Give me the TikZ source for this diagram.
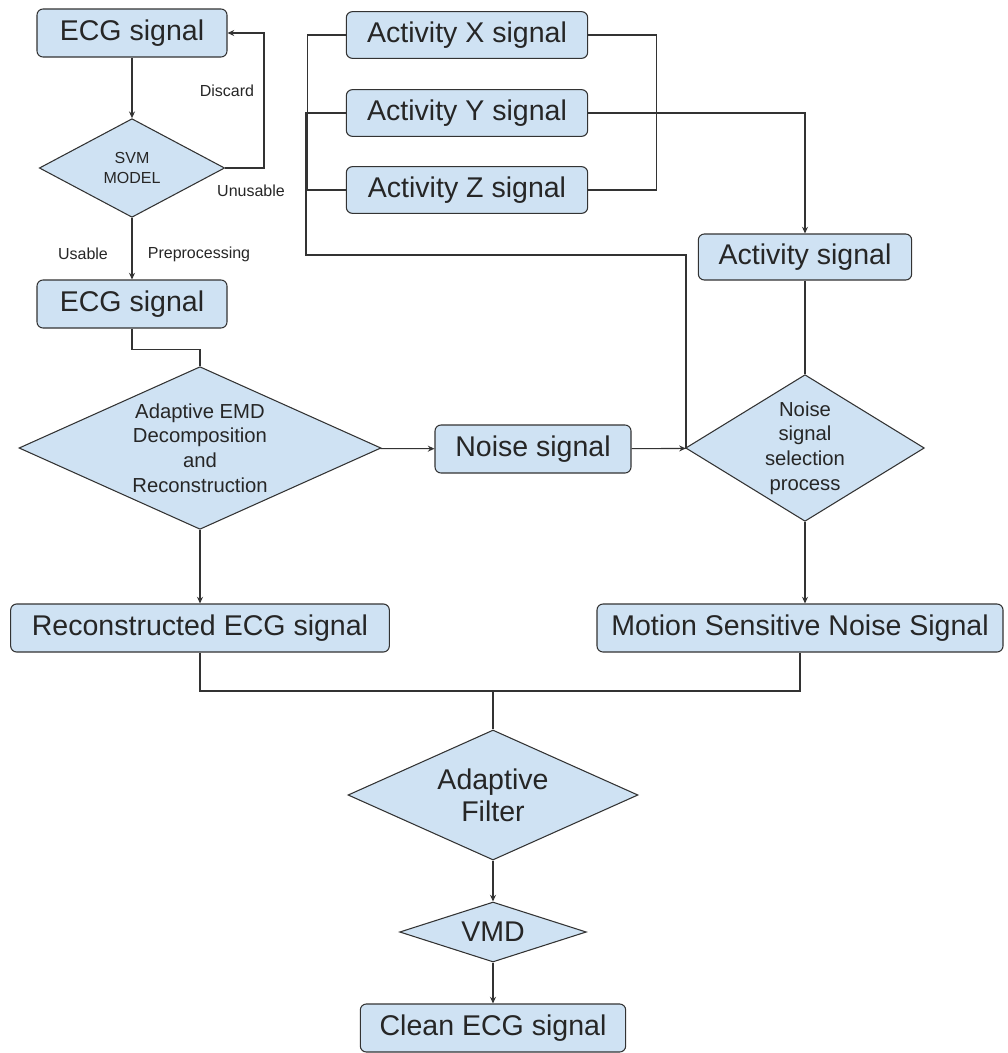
\documentclass[tikz,border=0pt]{standalone}
\usepackage{fontspec}
\setmainfont{Liberation Sans}
\usetikzlibrary{shapes.geometric,arrows.meta}
\definecolor{boxblue}{HTML}{CFE2F3}
\definecolor{edgegray}{HTML}{333333}

\begin{document}
\begin{tikzpicture}[x=0.75pt,y=-0.75pt,>={Stealth[length=5pt,width=4.5pt]}]
    \tikzstyle{every node}=[text=black!85,font=\fontsize{21.4}{24}\selectfont];
    \tikzstyle{every path}=[thick,color=edgegray];
    \tikzstyle{blk}=[draw=edgegray,fill=boxblue,rounded corners=4.5pt,minimum height=36pt,inner sep=0pt];
    \tikzstyle{dia}=[draw=edgegray,fill=boxblue,shape=diamond,inner sep=0pt,align=center];
    \tikzstyle{mid}=[font=\fontsize{15.2}{18.5}\selectfont];
    \tikzstyle{lbl}=[font=\fontsize{12}{14.8}\selectfont];
    \useasboundingbox (0,0) rectangle (1007,1053);

    \node at (132,33)   (ecg0)  [blk,minimum width=142.5pt] {ECG signal};
    \node at (132,168)  (svm)   [dia,lbl,minimum width=139pt,minimum height=74pt,aspect=1.87] {SVM\\MODEL};
    \node at (132,304)  (ecg1)  [blk,minimum width=142.5pt] {ECG signal};
    \node at (200,448)  (emd)   [dia,mid,minimum width=271.5pt,minimum height=122pt,aspect=2.22] {Adaptive EMD\\Decomposition\\and\\Reconstruction};
    \node at (533,449)  (noise) [blk,minimum width=147pt] {Noise signal};
    \node at (805,448)  (sel)   [dia,mid,minimum width=179pt,minimum height=110pt,aspect=1.63] {Noise\\signal\\selection\\process};
    \node at (467,35)   (ax)    [blk,minimum width=181pt,minimum height=35pt] {Activity X signal};
    \node at (467,113)  (ay)    [blk,minimum width=181pt,minimum height=35pt] {Activity Y signal};
    \node at (467,190)  (az)    [blk,minimum width=181pt,minimum height=35pt] {Activity Z signal};
    \node at (805,257)  (act)   [blk,minimum width=160pt,minimum height=34.5pt] {Activity signal};
    \node at (200,628)  (rec)   [blk,minimum width=284pt] {Reconstructed ECG signal};
    \node at (800,628)  (msn)   [blk,minimum width=304.5pt] {Motion Sensitive Noise Signal};
    \node at (493,795)  (af)    [dia,minimum width=217.5pt,minimum height=97.5pt,aspect=2.23] {Adaptive\\Filter};
    \node at (493,932)  (vmd)   [dia,minimum width=140pt,minimum height=45pt,aspect=3.1] {VMD};
    \node at (493,1028) (clean) [blk,minimum width=199pt] {Clean ECG signal};

    \node at (227,91)  (discard)  [lbl] {Discard};
    \node at (251,191) (unusable) [lbl] {Unusable};
    \node at (83,254)  (usable)   [lbl] {Usable};
    \node at (199,254) (prep)     [lbl] {Preprocessing};

    \coordinate (back) at (264,33);
    \coordinate (bend) at (686,255);
    \coordinate (join) at (493,691);

    \draw[->] (ecg0) to (svm);
    \draw[->] (svm.east) -| (back) -- (ecg0.east);
    \draw[->] (svm) to (ecg1);
    \draw (ecg1.south) -- ++(0,21) -| (emd.north);
    \draw[->] (emd) to (noise);
    \draw[->] (emd) to (rec);
    \draw[->] (noise) to (sel);
    \draw (ax.west) -- ++(-38,0) |- (az.west);
    \draw (ax.east) -- ++(68,0) |- (az.east);
    \draw[->] (ay.east) -| (act.north);
    \draw[line width=1.6pt] (ay.west) -- ++(-40,0) |- (bend) |- (sel.west);
    \draw (act) to (sel);
    \draw[->] (sel.south) -- (sel.south |- msn.north);
    \draw (rec.south) |- (join) -| (msn.south);
    \draw (join) -- (af.north);
    \draw[->] (af) to (vmd);
    \draw[->] (vmd) to (clean);
\end{tikzpicture}
\end{document}
